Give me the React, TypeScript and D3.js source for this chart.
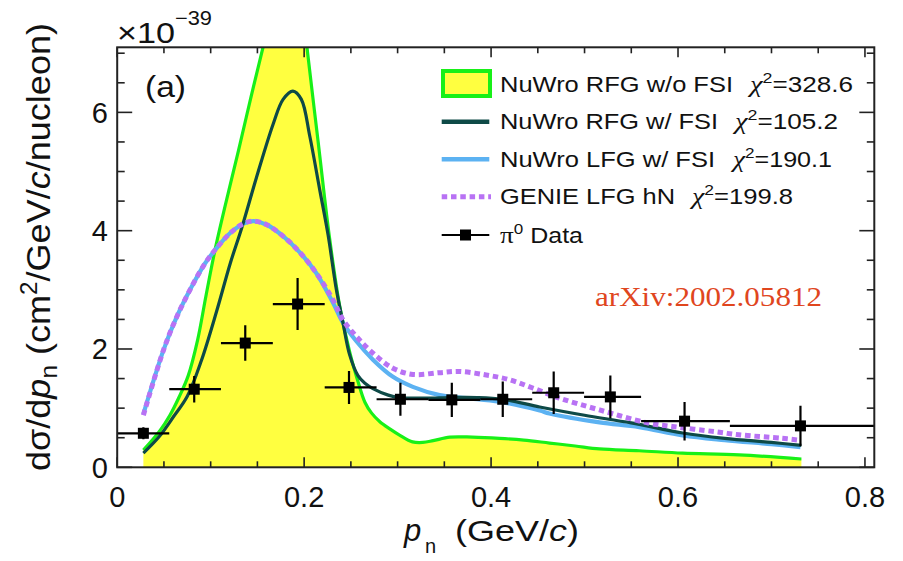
import React from 'react';
import * as d3 from 'd3';

// ---------- data ----------
const xTickLabels = ['0', '0.2', '0.4', '0.6', '0.8'];
const yTickLabels = ['0', '2', '4', '6'];

// pi0 data points
const dataX = [0.028, 0.0824, 0.137, 0.193, 0.248, 0.303, 0.358, 0.4125, 0.467, 0.5276, 0.607, 0.731];
const dataY = [0.575, 1.32, 2.10, 2.76, 1.35, 1.15, 1.14, 1.15, 1.26, 1.19, 0.78, 0.70];
const dataErr = [0.1, 0.225, 0.30, 0.44, 0.28, 0.28, 0.29, 0.30, 0.36, 0.36, 0.325, 0.34];
const binLo = [0, 0.0557, 0.111, 0.1665, 0.222, 0.2775, 0.333, 0.3885, 0.444, 0.4995, 0.5605, 0.6555];
const binHi = [0.0557, 0.111, 0.1665, 0.222, 0.2775, 0.333, 0.3885, 0.444, 0.4995, 0.5605, 0.6555, 0.9];

// NuWro RFG w/o FSI
const rfgNoFsiX = [0.028, 0.0457, 0.0564, 0.066, 0.076, 0.086, 0.095, 0.105, 0.1205, 0.130, 0.143, 0.156, 0.168, 0.18, 0.19, 0.197, 0.203, 0.215, 0.2274, 0.2381, 0.2487, 0.2576, 0.265, 0.272, 0.281, 0.2916, 0.3016, 0.316, 0.327, 0.338, 0.356, 0.38, 0.409, 0.435, 0.4625, 0.49, 0.516, 0.5585, 0.605, 0.6654, 0.732];
const rfgNoFsiY = [0.29, 0.62, 0.88, 1.18, 1.55, 2.15, 2.9, 3.70, 4.75, 5.37, 6.25, 7.1, 7.85, 8.4, 8.5, 8.0, 7.1, 5.5, 3.85, 2.72, 1.95, 1.45, 1.1, 0.92, 0.77, 0.65, 0.55, 0.43, 0.42, 0.45, 0.51, 0.51, 0.49, 0.46, 0.41, 0.36, 0.31, 0.28, 0.24, 0.21, 0.14];

// NuWro RFG w/ FSI
const rfgFsiX = [0.028, 0.045, 0.06, 0.075, 0.09, 0.1066, 0.121, 0.1333, 0.149, 0.1668, 0.1775, 0.188, 0.197, 0.206, 0.2167, 0.2256, 0.2345, 0.2416, 0.2487, 0.2576, 0.265, 0.2736, 0.29, 0.302, 0.33, 0.357, 0.385, 0.4125, 0.452, 0.50, 0.55, 0.605, 0.65, 0.70, 0.732];
const rfgFsiY = [0.24, 0.52, 0.85, 1.2, 1.8, 2.65, 3.45, 4.05, 4.9, 5.8, 6.22, 6.36, 6.22, 5.6, 4.69, 3.93, 3.0, 2.44, 1.9, 1.55, 1.42, 1.33, 1.22, 1.18, 1.17, 1.18, 1.18, 1.15, 1.02, 0.88, 0.75, 0.58, 0.49, 0.42, 0.37];

// NuWro LFG w/ FSI
const lfgFsiX = [0.028, 0.0497, 0.0639, 0.0799, 0.0941, 0.1066, 0.1209, 0.1351, 0.1458, 0.160, 0.178, 0.1956, 0.2131, 0.2309, 0.2416, 0.2559, 0.2736, 0.295, 0.3163, 0.345, 0.3734, 0.409, 0.452, 0.4624, 0.516, 0.5585, 0.605, 0.65, 0.70, 0.731];
const lfgFsiY = [0.9, 1.99, 2.55, 3.06, 3.45, 3.71, 3.96, 4.12, 4.16, 4.10, 3.90, 3.63, 3.28, 2.78, 2.44, 2.13, 1.82, 1.53, 1.36, 1.22, 1.17, 1.11, 0.96, 0.91, 0.76, 0.68, 0.54, 0.46, 0.39, 0.34];

// GENIE LFG hN
const genieX = [0.028, 0.0497, 0.0639, 0.0799, 0.0941, 0.1066, 0.1209, 0.1351, 0.1458, 0.160, 0.178, 0.1956, 0.2131, 0.2309, 0.2416, 0.2559, 0.2736, 0.295, 0.3163, 0.345, 0.366, 0.3948, 0.4197, 0.4446, 0.473, 0.516, 0.569, 0.594, 0.6405, 0.665, 0.7116, 0.729];
const genieY = [0.88, 1.99, 2.55, 3.06, 3.45, 3.71, 3.96, 4.12, 4.16, 4.10, 3.90, 3.63, 3.28, 2.83, 2.49, 2.21, 1.93, 1.675, 1.57, 1.60, 1.62, 1.56, 1.48, 1.34, 1.17, 0.97, 0.745, 0.69, 0.60, 0.55, 0.49, 0.46];

const legendLabels = ['NuWro RFG w/o FSI', 'NuWro RFG w/ FSI', 'NuWro LFG w/ FSI', 'GENIE LFG hN', 'Data'];
const chi2Values = ['328.6', '105.2', '190.1', '199.8'];

// ---------- style ----------
const SANS = 'Liberation Sans, Arial, Helvetica, sans-serif';
const SERIF = 'Liberation Serif, Times New Roman, serif';
const C_YELLOW = '#ffff40';
const C_GREEN = '#18f018';
const C_TEAL = '#0e4a47';
const C_BLUE = '#5cb2f2';
const C_PURPLE = '#b872f4';

const zip = (a: number[], b: number[]) => a.map((v, i) => [v, b[i]] as [number, number]);

export default function App() {
  const x = d3.scaleLinear().domain([0, 0.81]).range([117.2, 874.3]);
  const y = d3.scaleLinear().domain([0, 7.1]).range([467.3, 47.3]);
  const [x0, x1] = x.range();
  const [yb, yt] = y.range();

  const curve = d3.curveCatmullRom.alpha(0.5);
  const line = d3.line<[number, number]>().x(d => x(d[0])).y(d => y(d[1])).curve(curve);
  const area = d3.area<[number, number]>().x(d => x(d[0])).y0(y(0)).y1(d => y(d[1])).curve(curve);

  const noFsi = zip(rfgNoFsiX, rfgNoFsiY);

  const minorX = d3.range(0, 0.8001, 0.05);
  const minorY = d3.range(0, 7.01, 0.5);
  const isMajorX = (v: number) => Math.abs(v / 0.2 - Math.round(v / 0.2)) < 1e-6;
  const isMajorY = (v: number) => Math.abs(v / 2 - Math.round(v / 2)) < 1e-6;

  const legRows = [84, 121.7, 159.3, 196.7, 235];
  const legTextLen = [233, 218, 215, 175, 83];
  const chiX = [750, 735, 733, 692];
  const chiLen = [103, 103, 99, 101];

  return (
    <svg width={903} height={561} style={{ position: 'absolute', left: 0, top: 0, background: '#fff' }}
      fontFamily={SANS}>
      <defs>
        <clipPath id="plotClip">
          <rect x={x0} y={yt} width={x1 - x0} height={yb - yt} />
        </clipPath>
      </defs>
      <rect x={0} y={0} width={903} height={561} fill="#fff" />

      <g clipPath="url(#plotClip)">
        <path d={area(noFsi) || ''} fill={C_YELLOW} stroke="none" />
        <path d={line(noFsi) || ''} fill="none" stroke={C_GREEN} strokeWidth={3.2} />
        <path d={line(zip(lfgFsiX, lfgFsiY)) || ''} fill="none" stroke={C_BLUE} strokeWidth={4.2} />
        <path d={line(zip(rfgFsiX, rfgFsiY)) || ''} fill="none" stroke={C_TEAL} strokeWidth={3.2} />
        <path d={line(zip(genieX, genieY)) || ''} fill="none" stroke={C_PURPLE} strokeWidth={5}
          strokeDasharray="5.5 3.8" />
        {/* data */}
        {dataX.map((dx, i) => (
          <g key={i} stroke="#000" strokeWidth={2.2}>
            <line x1={x(binLo[i])} x2={x(binHi[i])} y1={y(dataY[i])} y2={y(dataY[i])} />
            <line x1={x(dx)} x2={x(dx)} y1={y(dataY[i] - dataErr[i])} y2={y(dataY[i] + dataErr[i])} />
            <rect x={x(dx) - 5.5} y={y(dataY[i]) - 5.5} width={11} height={11} fill="#000" stroke="none" />
          </g>
        ))}
      </g>

      {/* frame */}
      <rect x={x0} y={yt} width={x1 - x0} height={yb - yt} fill="none" stroke="#222" strokeWidth={2} />

      {/* ticks */}
      <g stroke="#222" strokeWidth={1.6}>
        {minorX.map((v, i) => {
          const len = isMajorX(v) ? 10 : 6;
          return (
            <g key={'xt' + i}>
              <line x1={x(v)} x2={x(v)} y1={yb} y2={yb - len} />
              <line x1={x(v)} x2={x(v)} y1={yt} y2={yt + len} />
            </g>
          );
        })}
        {minorY.map((v, i) => {
          const len = isMajorY(v) ? 15 : 7.5;
          return (
            <g key={'yt' + i}>
              <line x1={x0} x2={x0 + len} y1={y(v)} y2={y(v)} />
              <line x1={x1} x2={x1 - len} y1={y(v)} y2={y(v)} />
            </g>
          );
        })}
      </g>

      {/* tick labels */}
      <g fontSize={29} fill="#111">
        {xTickLabels.map((t, i) => (
          <text key={'xl' + i} x={x(+t)} y={507} textAnchor="middle">{t}</text>
        ))}
        {yTickLabels.map((t, i) => (
          <text key={'yl' + i} x={108} y={y(+t)} dy="0.36em" textAnchor="end">{t}</text>
        ))}
      </g>

      {/* exponent */}
      <text x={117} y={43} fontSize={30} fill="#111" textLength={58} lengthAdjust="spacingAndGlyphs">×10</text>
      <text x={175} y={25} fontSize={20} fill="#111" textLength={37} lengthAdjust="spacingAndGlyphs">−39</text>

      {/* (a) */}
      <text x={145} y={97} fontSize={29} fill="#111" textLength={41} lengthAdjust="spacingAndGlyphs">(a)</text>

      {/* axis titles */}
      <text x={404} y={541} fontSize={31} fill="#111" fontStyle="italic">p</text>
      <text x={425} y={553} fontSize={20} fill="#111">n</text>
      <text x={455} y={541} fontSize={30} fill="#111" textLength={124} lengthAdjust="spacingAndGlyphs">
        (GeV/<tspan fontStyle="italic">c</tspan>)
      </text>

      <text transform="translate(50,247) rotate(-90)" fontSize={34} fill="#111" textAnchor="middle"
        textLength={448} lengthAdjust="spacingAndGlyphs">
        dσ/d<tspan fontStyle="italic">p</tspan><tspan fontSize={23} dy={7}>n</tspan><tspan dy={-7}> (cm</tspan><tspan fontSize={23} dy={-13}>2</tspan><tspan dy={13}>/GeV/</tspan><tspan fontStyle="italic">c</tspan>/nucleon)
      </text>

      {/* arXiv */}
      <text x={595} y={306} fontSize={27} fontFamily={SERIF} fill="#e0461e" textLength={227}
        lengthAdjust="spacingAndGlyphs">arXiv:2002.05812</text>

      {/* legend */}
      <rect x={443} y={71} width={47} height={25} fill={C_YELLOW} stroke={C_GREEN} strokeWidth={4} />
      <line x1={441.7} x2={489.3} y1={legRows[1]} y2={legRows[1]} stroke={C_TEAL} strokeWidth={4.5} />
      <line x1={441.7} x2={489.3} y1={legRows[2]} y2={legRows[2]} stroke={C_BLUE} strokeWidth={4.5} />
      <line x1={441.7} x2={491} y1={legRows[3]} y2={legRows[3]} stroke={C_PURPLE} strokeWidth={5}
        strokeDasharray="5.5 3.8" />
      <line x1={441.7} x2={489.3} y1={legRows[4]} y2={legRows[4]} stroke="#000" strokeWidth={2.2} />
      <rect x={465.5 - 5.5} y={legRows[4] - 5.5} width={11} height={11} fill="#000" />

      <g fontSize={22} fill="#111">
        {legendLabels.slice(0, 4).map((t, i) => (
          <text key={'lg' + i} x={500} y={legRows[i] + 7.5} textLength={legTextLen[i]}
            lengthAdjust="spacingAndGlyphs">{t}</text>
        ))}
        {chi2Values.map((v, i) => (
          <text key={'chi' + i} x={chiX[i]} y={legRows[i] + 7.5} textLength={chiLen[i]}
            lengthAdjust="spacingAndGlyphs">
            <tspan fontFamily={SERIF} fontStyle="italic" fontSize={24}>χ</tspan>
            <tspan fontSize={15} dy={-9}>2</tspan>
            <tspan dy={9}>={v}</tspan>
          </text>
        ))}
        <text x={500} y={legRows[4] + 7.5} textLength={legTextLen[4]} lengthAdjust="spacingAndGlyphs">
          <tspan fontFamily={SERIF} fontSize={24}>π</tspan>
          <tspan fontSize={15} dy={-9}>0</tspan>
          <tspan dy={9}> {legendLabels[4]}</tspan>
        </text>
      </g>
    </svg>
  );
}
